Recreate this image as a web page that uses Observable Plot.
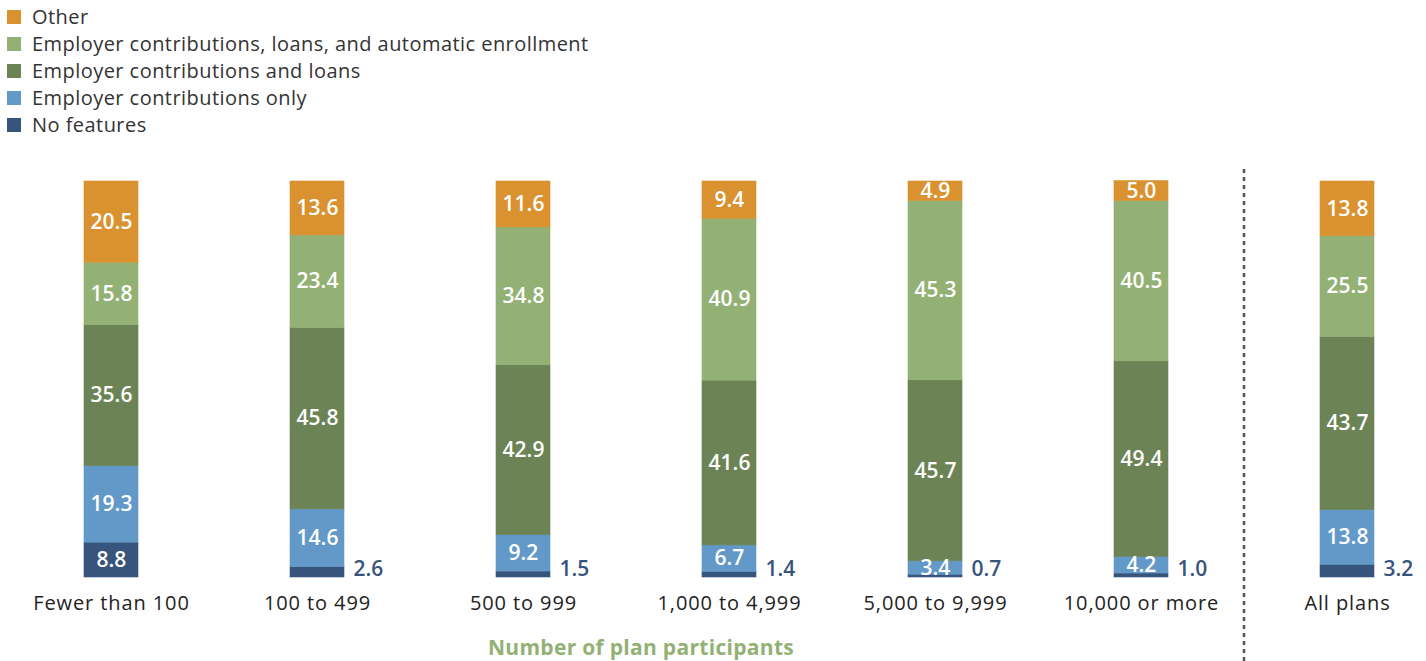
<!DOCTYPE html>
<html><head><meta charset="utf-8">
<script src="https://cdn.jsdelivr.net/npm/d3@7"></script>
<script src="https://cdn.jsdelivr.net/npm/@observablehq/plot@0.6"></script>
<style>
body{margin:0;background:#fff;font-family:"Open Sans", sans-serif;}
#legend{height:145px;box-sizing:border-box;padding-top:3px;}
.item{display:flex;align-items:center;height:27px;font-size:20px;color:#333;letter-spacing:0.45px;}
.sw{width:14px;height:14px;margin-left:7px;margin-right:11px;flex:none;}
#chart svg{display:block;}
</style></head><body>
<div id="legend"></div><div id="chart"></div>
<script>
const categories = ["Fewer than 100","100 to 499","500 to 999","1,000 to 4,999","5,000 to 9,999","10,000 or more","All plans"];
const series = ["No features","Employer contributions only","Employer contributions and loans","Employer contributions, loans, and automatic enrollment","Other"];
const colors = ["#37547C","#6399C8","#6C8455","#93B174","#DA9231"];
const noFeatures = [8.8,2.6,1.5,1.4,0.7,1.0,3.2];
const contribOnly = [19.3,14.6,9.2,6.7,3.4,4.2,13.8];
const contribLoans = [35.6,45.8,42.9,41.6,45.7,49.4,43.7];
const contribLoansAuto = [15.8,23.4,34.8,40.9,45.3,40.5,25.5];
const other = [20.5,13.6,11.6,9.4,4.9,5.0,13.8];
const axisTitle = "Number of plan participants";

const seriesValues = [noFeatures, contribOnly, contribLoans, contribLoansAuto, other];
const data = [];
series.forEach((s, i) => categories.forEach((c, j) => data.push({cat: c, series: s, value: seriesValues[i][j]})));
const isOutside = d => d.series === series[0] && d.value < 5;

// legend
const legend = d3.select("#legend");
series.slice().reverse().forEach(s => {
  const it = legend.append("div").attr("class","item");
  it.append("div").attr("class","sw").style("background", colors[series.indexOf(s)]);
  it.append("span").text(s);
});

const chart = Plot.plot({
  width: 1426, height: 516,
  marginLeft: 42, marginRight: 10, marginTop: 36, marginBottom: 84,
  x: {domain: categories, paddingInner: 0.738, paddingOuter: 0.2, label: null},
  y: {domain: [0, 100], axis: null},
  color: {domain: series, range: colors},
  style: {fontFamily: "'Open Sans', sans-serif", fontSize: "20px", background: "white"},
  marks: [
    Plot.barY(data, {x: "cat", y: "value", fill: "series", stroke: "series", strokeWidth: 0.6, order: series}),
    Plot.text(data, Plot.stackY({x: "cat", y: "value", z: "series", order: series,
      text: d => isOutside(d) ? "" : d.value.toFixed(1),
      fill: "white", fontWeight: 600, fontSize: 21, style: "letter-spacing:1px"})),
    Plot.text(data.filter(isOutside), {x: "cat", y: 0, text: d => d.value.toFixed(1),
      textAnchor: "start", dx: 36, dy: -8, fill: "#37547C", fontWeight: 600, fontSize: 21}),
    Plot.axisX({tickSize: 0, tickPadding: 18, fontSize: 20, fill: "#222", label: null}),
    (index, scales, values, dims) => {
      const x = scales.x, y = scales.y;
      const bw = typeof x.bandwidth === "function" ? x.bandwidth() : x.bandwidth;
      const c = k => x(categories[k]) + bw / 2;
      const xm = (c(5) + c(6)) / 2;
      const g = d3.create("svg:g");
      g.append("line").attr("x1", xm).attr("x2", xm).attr("y1", y(100) - 12).attr("y2", dims.height)
        .attr("stroke", "#555").attr("stroke-width", 2.5).attr("stroke-dasharray", "4,4");
      g.append("text").attr("x", (c(2) + c(3)) / 2 + 15).attr("y", dims.height - 6)
        .attr("text-anchor", "middle").attr("fill", "#93B174").attr("font-weight", 700)
        .attr("font-size", 21).attr("letter-spacing", "0.3px").text(axisTitle);
      return g.node();
    }
  ]
});
d3.select(chart).selectAll("[aria-label='x-axis tick label'] text").attr("letter-spacing", "0.9px");
document.getElementById("chart").appendChild(chart);
</script>
</body></html>
